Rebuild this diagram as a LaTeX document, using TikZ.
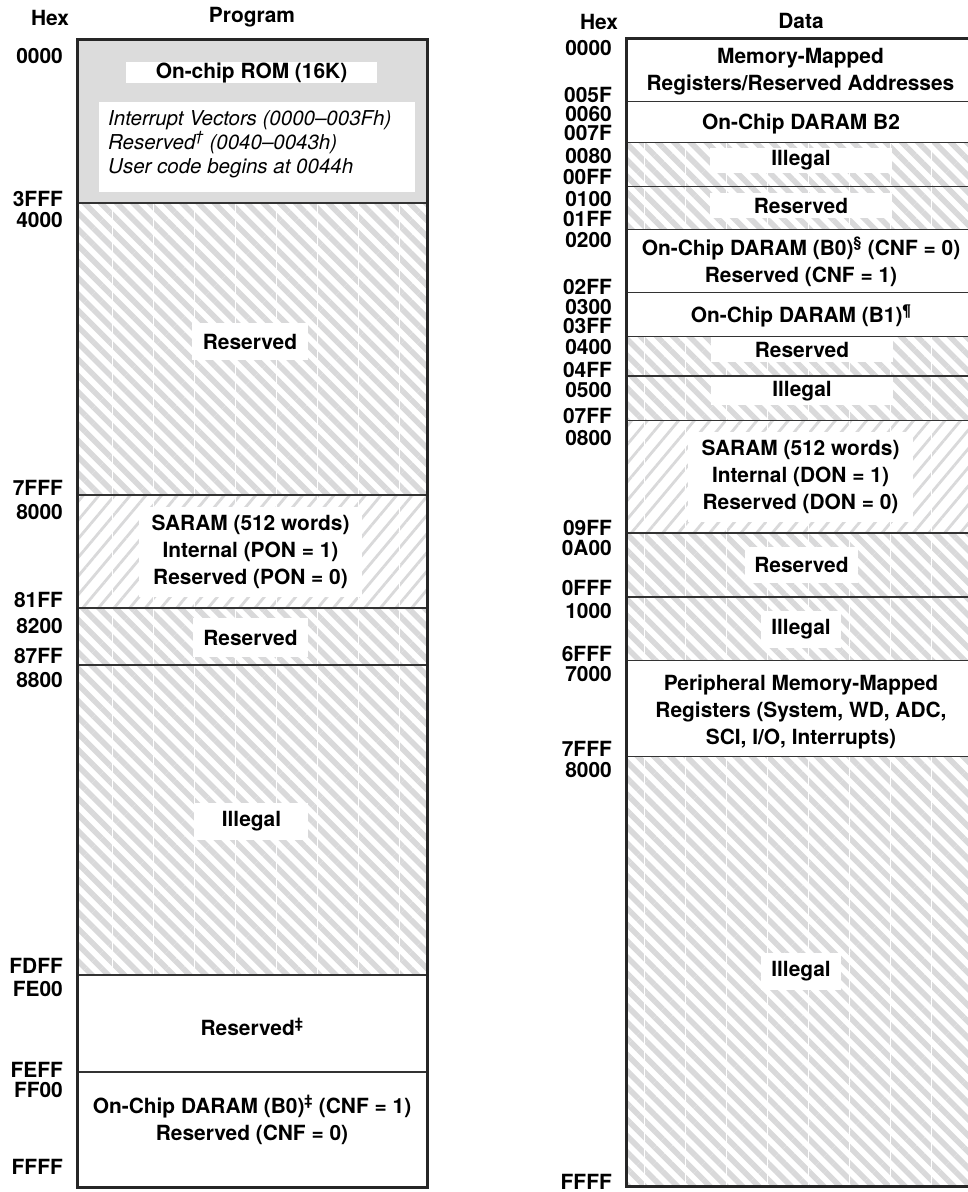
\documentclass[tikz,border=0pt]{standalone}
\usepackage{fontspec}
\setmainfont{TeX Gyre Heros}
\usetikzlibrary{patterns.meta}

\definecolor{hatchgray}{HTML}{D9D9DA}
\definecolor{romgray}{HTML}{DCDCDC}
\definecolor{sepgray}{HTML}{333333}

\newcommand{\memfont}{\fontsize{20.9}{27}\selectfont\bfseries}
\newcommand{\notefont}{\fontsize{20.5}{24}\selectfont\itshape}
\newcommand{\seams}[3]{\foreach \k in {0,...,7} \draw[white,line width=0.8pt] ({#1+\k*41.1},#2) -- ({#1+\k*41.1},#3);}

\tikzset{
  hexlbl/.style={anchor=east,inner sep=0pt,text height=14.5pt,text depth=0pt,font=\memfont},
  areatxt/.style={inner sep=0pt,align=center,font=\memfont},
  boxtxt/.style={areatxt,fill=white},
  notes/.style={inner sep=0pt,align=left,font=\notefont},
  backslashes/.style={pattern={Lines[angle=-45,distance=11.5pt,line width=5.6pt]},pattern color=hatchgray},
  slashes/.style={pattern={Lines[angle=50,distance=12pt,line width=2.8pt]},pattern color=hatchgray},
  sepline/.style={draw=sepgray,line width=1.5pt},
  outline/.style={draw=black!85,line width=3pt},
}

\begin{document}
\begin{tikzpicture}[x=1pt,y=-1pt]
\clip (0,0) rectangle (968,1192);

\fill[romgray] (77,39) rectangle (427,203);
\fill[backslashes] (77,203) rectangle (427,495);
\fill[slashes] (77,495) rectangle (427,608);
\fill[backslashes] (77,608) rectangle (427,975);
\seams{112}{203}{975}
\fill[white] (99,102) rectangle (415,192);
\foreach \yy in {203,495,608,665,975,1072} \draw[sepline] (77,\yy) -- (427,\yy);
\draw[outline] (77,39) rectangle (427,1187);

\fill[backslashes] (626,142.7) rectangle (974,229.5);
\fill[backslashes] (626,336.7) rectangle (974,420.7);
\fill[slashes] (626,420.7) rectangle (974,533);
\fill[backslashes] (626,533) rectangle (974,660.7);
\fill[backslashes] (626,756.7) rectangle (974,1186);
\seams{644}{142.7}{229.5}
\seams{644}{336.7}{660.7}
\seams{644}{756.7}{1186}
\foreach \yy in {101.7,142.7,186.7,229.5,292.7,336.7,376,420.7,533,597,660.7,756.7} \draw[sepline] (626,\yy) -- (974,\yy);
\draw[outline] (626,38) rectangle (974,1186);

\node[areatxt] (phex) at (50,17.5) {Hex};
\node[areatxt] (prog) at (252,17.5) {Program};
\node[areatxt] (dhex) at (599,21.5) {Hex};
\node[areatxt] (data) at (801,21) {Data};

\foreach \lbl/\yy in {0000/56,3FFF/199,4000/220,7FFF/488,8000/512.5,81FF/600,8200/626,87FF/656,8800/680,FDFF/966,FE00/989.5,FEFF/1070,FF00/1090,FFFF/1167.5}
  \node[hexlbl] (p\lbl) at (63,\yy) {\lbl};
\foreach \lbl/\yy in {0000/48,005F/95,0060/114,007F/133.5,0080/156,00FF/177,0100/199,01FF/219,0200/240,02FF/287,0300/307,03FF/326,0400/347,04FF/370,0500/390,07FF/416,0800/438,09FF/528.5,0A00/548,0FFF/588,1000/611,6FFF/654,7000/674,7FFF/749,8000/770,FFFF/1182}
  \node[hexlbl] (d\lbl) at (612,\yy) {\lbl};

\node[boxtxt,minimum width=251pt,minimum height=21pt] (rom) at (251.5,72.5) {On-chip ROM (16K)};
\node[notes,anchor=west] (romnotes) at (108,144) {Interrupt Vectors (0000–003Fh)\\Reserved\textsuperscript{†} (0040–0043h)\\User code begins at 0044h};
\node[boxtxt,minimum width=116pt,minimum height=37pt] (pres1) at (250,341.5) {Reserved};
\node[boxtxt,minimum width=223pt,minimum height=90pt] (psaram) at (250.5,552) {SARAM (512 words)\\Internal (PON = 1)\\Reserved (PON = 0)};
\node[boxtxt,minimum width=115pt,minimum height=39pt] (pres2) at (250.5,637.5) {Reserved};
\node[boxtxt,minimum width=113pt,minimum height=37pt] (pill) at (251.5,821.5) {Illegal};
\node[areatxt] (pres3) at (252,1027) {Reserved\textsuperscript{‡}};
\node[areatxt] (pb0) at (252,1120) {On-Chip DARAM (B0)\textsuperscript{‡} (CNF = 1)\\Reserved (CNF = 0)};

\node[areatxt] (dmmr) at (800.5,72) {Memory-Mapped\\Registers/Reserved Addresses};
\node[areatxt] (db2) at (801,124) {On-Chip DARAM B2};
\node[boxtxt,minimum width=182pt,minimum height=25pt] (dill1) at (801,160.5) {Illegal};
\node[boxtxt,minimum width=182pt,minimum height=25pt] (dres1) at (801,205.5) {Reserved};
\node[areatxt] (db0) at (801,262) {On-Chip DARAM (B0)\textsuperscript{§} (CNF = 0)\\Reserved (CNF = 1)};
\node[areatxt] (db1) at (801,316) {On-Chip DARAM (B1)\textsuperscript{¶}};
\node[boxtxt,minimum width=182pt,minimum height=25pt] (dres2) at (802,349.5) {Reserved};
\node[boxtxt,minimum width=182pt,minimum height=28pt] (dill2) at (802,391) {Illegal};
\node[boxtxt,minimum width=225pt,minimum height=90pt] (dsaram) at (800.5,477) {SARAM (512 words)\\Internal (DON = 1)\\Reserved (DON = 0)};
\node[boxtxt,minimum width=113pt,minimum height=36pt] (dres3) at (801.5,565) {Reserved};
\node[boxtxt,minimum width=80pt,minimum height=37pt] (dill3) at (801,629.5) {Illegal};
\node[areatxt] (dperiph) at (801,711.5) {Peripheral Memory-Mapped\\Registers (System, WD, ADC,\\SCI, I/O, Interrupts)};
\node[boxtxt,minimum width=80pt,minimum height=37pt] (dill4) at (801,971) {Illegal};
\end{tikzpicture}
\end{document}
